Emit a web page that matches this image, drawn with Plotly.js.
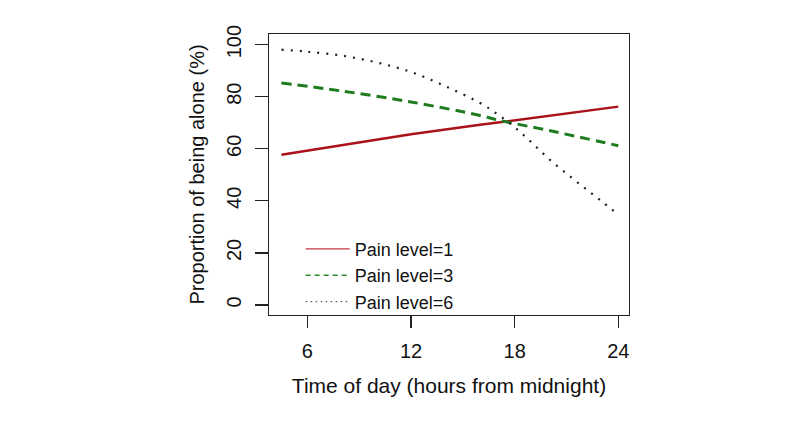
<!DOCTYPE html>
<html>
<head>
<meta charset="utf-8">
<script src="https://cdn.plot.ly/plotly-3.0.1.min.js"></script>
<style>html,body{margin:0;padding:0;background:#fff;}#chart{width:800px;height:431px;}</style>
</head>
<body>
<div id="chart"></div>
<script>
// Data
const hoursPain1 = [4.5, 8, 12, 16, 20, 24];
const pain1 = [57.7, 61.4, 65.6, 69.2, 72.8, 76.2];

const hoursPain3 = [4.5, 8, 12, 16, 17, 20, 24];
const pain3 = [85.3, 82.2, 78.0, 72.8, 71.1, 67.0, 61.2];

const hoursPain6 = [4.5, 6, 8, 10, 12, 14, 16, 17, 18, 19, 20, 21, 22, 23, 24];
const pain6 = [98.1, 97.3, 95.8, 93.2, 89.5, 84.0, 77.6, 73.3, 68.3, 62.3, 56.0, 50.5, 45.2, 40.0, 34.8];

const seriesNames = ["Pain level=1", "Pain level=3", "Pain level=6"];
const xTicks = [6, 12, 18, 24];
const yTicks = [0, 20, 40, 60, 80, 100];

const colors = ["#aa1218", "#1e7b1e", "#222"];

const traces = [
  {x: hoursPain1, y: pain1, name: seriesNames[0], mode: "lines", showlegend: false,
   line: {color: colors[0], width: 2.5}},
  {x: hoursPain3, y: pain3, name: seriesNames[1], mode: "lines", showlegend: false,
   line: {color: colors[1], width: 3, dash: "10px,6px", shape: "spline"}},
  {x: hoursPain6, y: pain6, name: seriesNames[2], mode: "lines", showlegend: false,
   line: {color: colors[2], width: 2.2, dash: "2px,7px", shape: "spline"}},
  // legend keys (thin lines, as in the reference legend)
  {x: [null], y: [null], name: seriesNames[0], mode: "lines",
   line: {color: "#c0393e", width: 1.4}},
  {x: [null], y: [null], name: seriesNames[1], mode: "lines",
   line: {color: "#2a8a2a", width: 1.6, dash: "5px,4px"}},
  {x: [null], y: [null], name: seriesNames[2], mode: "lines",
   line: {color: "#555", width: 1.2, dash: "1.5px,3.5px"}}
];

const fontFam = "Liberation Sans, Arial, sans-serif";
const layout = {
  width: 800, height: 431,
  margin: {l: 269, r: 171, t: 34, b: 116, pad: 0},
  paper_bgcolor: "#fff", plot_bgcolor: "#fff",
  font: {family: fontFam, size: 20, color: "#111"},
  showlegend: true,
  legend: {x: 0.088, y: 0.30, xanchor: "left", yanchor: "top",
           bgcolor: "rgba(0,0,0,0)", borderwidth: 0, tracegroupgap: 0, itemwidth: 44,
           font: {family: fontFam, size: 18, color: "#111"}},
  xaxis: {
    range: [3.78, 24.62], tickmode: "array", tickvals: xTicks,
    ticks: "outside", ticklen: 12, tickwidth: 1.2, tickcolor: "#222",
    showline: true, linecolor: "#222", linewidth: 1.2, mirror: true,
    showgrid: false, zeroline: false,
    tickfont: {size: 20, color: "#111"}, ticklabelstandoff: 6,
    title: {text: "Time of day (hours from midnight)", font: {size: 21, color: "#111"}, standoff: 17}
  },
  yaxis: {
    range: [-3.85, 104.1], tickmode: "array", tickvals: yTicks,
    ticks: "outside", ticklen: 13, tickwidth: 1.2, tickcolor: "#222",
    showline: true, linecolor: "#222", linewidth: 1.2, mirror: true,
    showgrid: false, zeroline: false, tickangle: -90,
    tickfont: {size: 20, color: "#111"}, ticklabelstandoff: 6,
    title: {text: "Proportion of being alone (%)", font: {size: 20, color: "#111"}, standoff: 12}
  }
};

Plotly.newPlot("chart", traces, layout, {displayModeBar: false, staticPlot: true});
</script>
</body>
</html>
